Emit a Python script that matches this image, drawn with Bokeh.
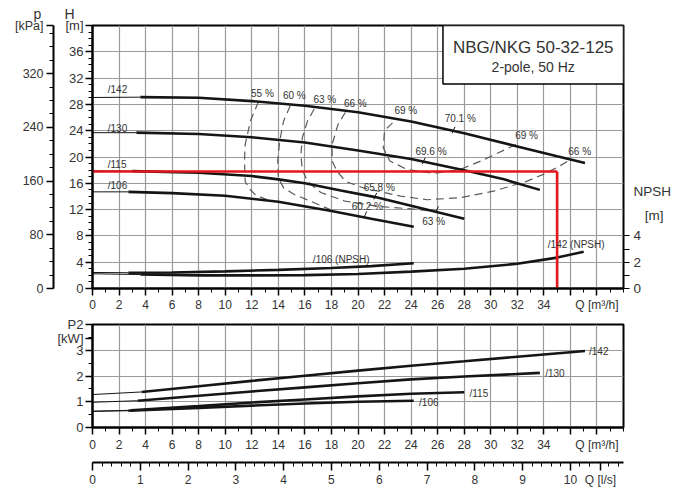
from bokeh.plotting import figure
from bokeh.models import Range1d, LinearAxis, FixedTicker, Label, BoxAnnotation, Grid, Title
from bokeh.layouts import column
from bokeh.embed import file_html
from bokeh.resources import INLINE

FONT = "Liberation Sans"
TXT = "#333333"
CURVE = "#151515"
GRID = "#9a9a9a"
RED = "#e3161d"
DASH = "#5a5a5a"
NB = "\u00a0"

# ---------------- axis definitions ----------------
Q_MAX = 40
H_MAX = 40
KPA_PER_M = 9.79
KPA_TOP = H_MAX * KPA_PER_M
NPSH_MAX = 20
P2_MAX = 4
LS_MAX = Q_MAX / 3.6

q_major = [0, 2, 4, 6, 8, 10, 12, 14, 16, 18, 20, 22, 24, 26, 28, 30, 32, 34, 36, 38]
q_minor = list(range(0, 41))
q_over = {36: "", 38: "Q [m\u00b3/h]"}
h_major = [0, 4, 8, 12, 16, 20, 24, 28, 32, 36, 40]
h_grid = [0, 4, 8, 12, 16, 20, 24, 28, 32, 36]
h_minor = list(range(0, 41))
h_over = {40: "[m]"}
kpa_major = [0, 80, 160, 240, 320, KPA_TOP]
kpa_minor = list(range(0, 381, 20))
kpa_over = {KPA_TOP: "[kPa]"}
npsh_unit_pos = 5.55
npsh_name_pos = 7.38
npsh_major = [0, 2, 4, npsh_unit_pos, npsh_name_pos]
npsh_minor = [0, 1, 2, 3, 4]
npsh_over = {npsh_unit_pos: NB * 3 + "[m]", npsh_name_pos: "NPSH"}
p2_unit_pos = 3.45
p2_major = [0, 1, 2, 3, p2_unit_pos, P2_MAX]
p2_grid = [0, 1, 2, 3]
p2_minor = [0, 0.5, 1, 1.5, 2, 2.5, 3, 3.5, 4]
p2_over = {p2_unit_pos: "[kW]", P2_MAX: "P2"}
ls_name_pos = 10.63
ls_major = [0, 1, 2, 3, 4, 5, 6, 7, 8, 9, 10, ls_name_pos]
ls_minor = [0, 0.2, 0.4, 0.6, 0.8, 1, 1.2, 1.4, 1.6, 1.8, 2, 2.2, 2.4, 2.6, 2.8, 3, 3.2, 3.4, 3.6, 3.8,
            4, 4.2, 4.4, 4.6, 4.8, 5, 5.2, 5.4, 5.6, 5.8, 6, 6.2, 6.4, 6.6, 6.8, 7, 7.2, 7.4, 7.6, 7.8,
            8, 8.2, 8.4, 8.6, 8.8, 9, 9.2, 9.4, 9.6, 9.8, 10, 10.2, 10.4, 10.8, 11]
ls_over = {ls_name_pos: "Q [l/s]"}

# ---------------- data: head curves (Q m3/h, H m) ----------------
h142_q = [0, 3.6, 8, 12, 16, 20, 24, 28, 32, 35, 37.1]
h142_h = [29.05, 29.1, 29.0, 28.5, 27.8, 26.8, 25.4, 23.6, 21.6, 20.1, 19.1]
h130_q = [0, 3.3, 8, 12, 16, 20, 24, 28, 31, 33.7]
h130_h = [23.7, 23.7, 23.5, 23.0, 22.2, 21.0, 19.7, 18.0, 16.6, 15.0]
h115_q = [0, 3.0, 8, 12, 14, 16, 18.7, 21.3, 24, 28]
h115_h = [17.9, 17.85, 17.6, 17.1, 16.6, 16.0, 14.9, 13.9, 12.6, 10.6]
h106_q = [0, 2.7, 6, 10, 14, 18, 21, 24.2]
h106_h = [14.7, 14.7, 14.5, 14.1, 13.2, 11.8, 10.6, 9.4]

# NPSH curves (m)
n106_q = [0, 2.7, 6, 10, 14, 18, 21, 24.2]
n106_v = [1.22, 1.2, 1.22, 1.3, 1.42, 1.56, 1.7, 1.92]
n142_q = [0, 3.6, 8, 12, 16, 20, 24, 28, 32, 35, 37]
n142_v = [1.12, 1.06, 1.0, 1.0, 1.02, 1.1, 1.28, 1.5, 1.88, 2.35, 2.8]

# P2 curves (kW)
p142_q = [0, 3.7, 8, 12, 16, 20, 24, 28, 32, 37.1]
p142_v = [1.28, 1.38, 1.60, 1.81, 2.01, 2.21, 2.40, 2.57, 2.75, 2.97]
p130_q = [0, 3.4, 8, 12, 16, 20, 24, 28, 33.7]
p130_v = [0.98, 1.04, 1.23, 1.40, 1.56, 1.72, 1.87, 1.98, 2.12]
p115_q = [0, 2.9, 8, 12, 16, 20, 24, 28]
p115_v = [0.63, 0.67, 0.83, 0.97, 1.09, 1.21, 1.31, 1.37]
p106_q = [0, 2.7, 8, 12, 16, 20, 24.2]
p106_v = [0.63, 0.65, 0.76, 0.85, 0.93, 1.0, 1.04]

# efficiency iso-lines (Q, H)
e55_q = [12.5, 11.9, 11.5, 11.45, 11.5, 11.8, 12.3, 13.4]
e55_h = [28.4, 25.5, 21.9, 19.4, 16.3, 15.2, 14.2, 13.3]
e60_q = [14.9, 14.4, 14.1, 13.95, 14.0, 14.4, 15.2, 16.4, 17.9]
e60_h = [27.8, 25.5, 22.4, 19.4, 16.8, 15.3, 14.3, 13.3, 12.0]
e63_q = [16.7, 16.2, 15.8, 15.7, 15.8, 16.2, 17.2, 19.0, 21.5, 24.0, 26.0]
e63_h = [27.3, 25.5, 22.9, 20.4, 18.1, 16.3, 14.6, 13.3, 12.5, 12.1, 11.7]
e66_q = [19.05, 18.5, 18.05, 18.05, 18.4, 19.05, 20.4, 23.2, 25.2, 27.7, 30.2, 32.7, 34.0, 35.0, 36.0]
e66_h = [26.8, 25.0, 21.9, 19.4, 17.9, 16.3, 15.3, 14.05, 13.5, 13.8, 14.8, 16.3, 17.4, 18.4, 19.6]
e69_q = [22.6, 22.0, 21.9, 22.4, 23.7, 25.7, 27.7, 29.5, 31.9]
e69_h = [25.2, 24.0, 21.4, 19.4, 18.1, 17.5, 18.1, 19.6, 21.9]

eff_text = ["55 %", "60 %", "63 %", "66 %", "69 %", "70.1 %", "69 %", "66 %", "69.6 %", "65.8 %", "60.2 %", "63 %"]
eff_text_q = [12.8, 15.2, 17.5, 19.8, 23.6, 27.7, 32.7, 36.7, 25.5, 21.6, 20.7, 25.7]
eff_text_h = [29.7, 29.3, 28.8, 28.2, 27.0, 25.9, 23.2, 20.9, 20.8, 15.4, 12.4, 10.2]

bep_q = [27.2, 24.95, 21.3, 20.55, 25.95]
bep_h = [24.1, 19.4, 14.05, 11.25, 12.0]

curve_names = ["/142", "/130", "/115", "/106"]
name_q = [1.15, 1.15, 1.15, 1.15]
name_h = [30.2, 24.3, 18.8, 15.7]
p2_name_q = [37.4, 34.1, 28.4, 24.6]
p2_name_v = [2.97, 2.11, 1.33, 0.98]

duty_q = 35.0
duty_h = 17.8

title1 = "NBG/NKG 50-32-125"
title2 = "2-pole, 50 Hz"


# ---------------- helpers ----------------
def style_axis(ax, size="13px", tick_out=7, minor_out=4, standoff=3, line_w=2):
    ax.major_label_text_font = FONT
    ax.major_label_text_font_size = size
    ax.major_label_text_color = TXT
    ax.axis_line_color = "black"
    ax.axis_line_width = line_w
    ax.major_tick_line_color = "black"
    ax.major_tick_line_width = 1.5
    ax.minor_tick_line_color = "black"
    ax.minor_tick_line_width = 1
    ax.major_tick_out = tick_out
    ax.major_tick_in = 0
    ax.minor_tick_out = minor_out
    ax.minor_tick_in = 0
    ax.major_label_standoff = standoff


def lab(fig, x, y, text, size="13px", align="center", baseline="middle", **kw):
    fig.add_layout(Label(x=x, y=y, text=text, text_font=FONT, text_font_size=size,
                         text_color=TXT, text_align=align, text_baseline=baseline, **kw))


def curve(fig, q, v, **kw):
    fig.line(q[:2], v[:2], line_color=CURVE, line_width=1, **kw)
    fig.line(q[1:], v[1:], line_color=CURVE, line_width=2.6, **kw)


def base_fig(fh, top, bottom, yr):
    f = figure(frame_width=531, frame_height=fh, min_border_left=92, min_border_right=49,
               min_border_top=top, min_border_bottom=bottom,
               x_range=Range1d(0, Q_MAX), y_range=yr,
               x_axis_type=None, y_axis_type=None,
               output_backend="svg", toolbar_location=None)
    f.outline_line_color = "black"
    f.outline_line_width = 2
    f.background_fill_color = "white"
    f.border_fill_color = "white"
    return f


# ================= main chart =================
fig1 = base_fig(263, 24, 22, Range1d(0, H_MAX))
fig1.extra_y_ranges = {"kpa": Range1d(0, KPA_TOP), "npsh": Range1d(0, NPSH_MAX)}

xt1 = FixedTicker(ticks=q_major, minor_ticks=q_minor)
xa1 = LinearAxis(ticker=xt1, major_label_overrides=q_over)
style_axis(xa1, size="12px", standoff=2)
fig1.add_layout(xa1, "below")

ha = LinearAxis(ticker=FixedTicker(ticks=h_major, minor_ticks=h_minor), major_label_overrides=h_over,
                axis_label=" ", axis_label_text_font_size="4px", axis_label_standoff=1)
style_axis(ha, size="13px", standoff=2)
fig1.add_layout(ha, "left")

ka = LinearAxis(y_range_name="kpa", ticker=FixedTicker(ticks=kpa_major, minor_ticks=kpa_minor),
                major_label_overrides=kpa_over)
style_axis(ka, size="12.5px", standoff=3)
fig1.add_layout(ka, "left")

na = LinearAxis(y_range_name="npsh", ticker=FixedTicker(ticks=npsh_major, minor_ticks=npsh_minor),
                major_label_overrides=npsh_over)
style_axis(na, size="13.5px", minor_out=6)
na.axis_line_color = None
na.major_tick_line_color = None
fig1.add_layout(na, "right")

fig1.add_layout(Grid(dimension=0, ticker=FixedTicker(ticks=q_major), grid_line_color=GRID, grid_line_width=1.2))
fig1.add_layout(Grid(dimension=1, ticker=FixedTicker(ticks=h_grid), grid_line_color=GRID, grid_line_width=1.2))

fig1.add_layout(Title(text="p" + NB * 6 + "H", align="left", offset=-59, standoff=7,
                      text_font=FONT, text_font_size="14px", text_font_style="normal",
                      text_color=TXT), "above")

# efficiency iso-lines
for eq, eh in [(e55_q, e55_h), (e60_q, e60_h), (e63_q, e63_h), (e66_q, e66_h), (e69_q, e69_h)]:
    fig1.line(eq, eh, line_color=DASH, line_width=1.2, line_dash="8 5")

# head curves
for q, h in [(h142_q, h142_h), (h130_q, h130_h), (h115_q, h115_h), (h106_q, h106_h)]:
    curve(fig1, q, h)

# NPSH curves
curve(fig1, n106_q, n106_v, y_range_name="npsh")
curve(fig1, n142_q, n142_v, y_range_name="npsh")

fig1.scatter(bep_q, bep_h, marker="dash", size=7, angle=1.15, line_color=CURVE, line_width=1)

# duty point
fig1.line([0, duty_q], [duty_h, duty_h], line_color=RED, line_width=2.6)
fig1.line([duty_q, duty_q], [duty_h, 0], line_color=RED, line_width=2.6)

for t, x, y in zip(eff_text, eff_text_q, eff_text_h):
    lab(fig1, x, y, t, size="10px")
for t, x, y in zip(curve_names, name_q, name_h):
    lab(fig1, x, y, t, size="10px", align="left")
lab(fig1, 16.6, 2.2, "/106 (NPSH)", size="10px", align="left", y_range_name="npsh")
lab(fig1, 34.3, 3.35, "/142 (NPSH)", size="10px", align="left", y_range_name="npsh")

# title box
fig1.add_layout(BoxAnnotation(left=26.4, right=Q_MAX, bottom=31.1, top=H_MAX,
                              fill_color="white", fill_alpha=1.0,
                              line_color="black", line_width=1.5, line_alpha=1.0))
lab(fig1, 33.2, 36.6, title1, size="17px")
lab(fig1, 33.2, 33.7, title2, size="14px")

# ================= P2 chart =================
fig2 = base_fig(103, 10, 24, Range1d(0, P2_MAX))
xt2 = FixedTicker(ticks=q_major, minor_ticks=q_minor)
xa2 = LinearAxis(ticker=xt2, major_label_overrides=q_over)
style_axis(xa2, size="12px")
fig2.add_layout(xa2, "below")
pa = LinearAxis(ticker=FixedTicker(ticks=p2_major, minor_ticks=p2_minor), major_label_overrides=p2_over)
style_axis(pa, size="13px", standoff=2)
fig2.add_layout(pa, "left")
fig2.add_layout(Grid(dimension=0, ticker=FixedTicker(ticks=q_major), grid_line_color=GRID, grid_line_width=1.2))
fig2.add_layout(Grid(dimension=1, ticker=FixedTicker(ticks=p2_grid), grid_line_color=GRID, grid_line_width=1.2))

for q, v in [(p142_q, p142_v), (p130_q, p130_v), (p115_q, p115_v), (p106_q, p106_v)]:
    curve(fig2, q, v)
for t, x, y in zip(curve_names, p2_name_q, p2_name_v):
    lab(fig2, x, y, t, size="10px", align="left")

# ================= l/s axis =================
fig3 = figure(frame_width=531, frame_height=6, min_border_left=92, min_border_right=49,
              min_border_top=2, min_border_bottom=24,
              x_range=Range1d(0, LS_MAX), y_range=Range1d(0, 1),
              x_axis_type=None, y_axis_type=None,
              output_backend="svg", toolbar_location=None)
fig3.outline_line_color = None
fig3.background_fill_color = "white"
fig3.border_fill_color = "white"
la = LinearAxis(ticker=FixedTicker(ticks=ls_major, minor_ticks=ls_minor), major_label_overrides=ls_over)
style_axis(la, size="12px", tick_out=8, minor_out=4, standoff=2)
fig3.add_layout(la, "below")

layout = column(fig1, fig2, fig3, spacing=0)
open("out.html", "w").write(file_html(layout, INLINE))
